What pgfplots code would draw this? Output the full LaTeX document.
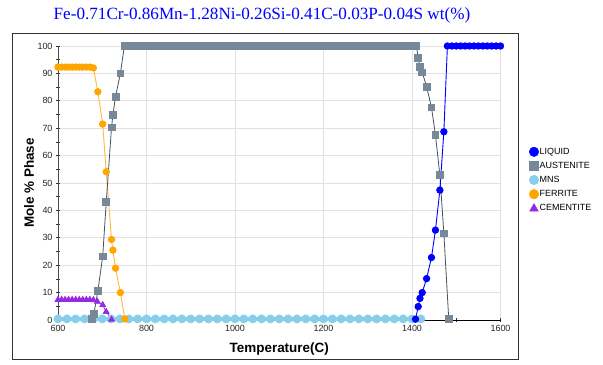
\documentclass[border=0pt]{standalone}
\usepackage{pgfplots}
\pgfplotsset{compat=1.18}
\usepackage{fontspec}
\setmainfont{Liberation Sans}
\newfontfamily\titlefont{Liberation Serif}
\definecolor{cliq}{RGB}{0,0,255}
\definecolor{caus}{RGB}{119,136,153}
\definecolor{causl}{RGB}{70,82,95}
\definecolor{cmns}{RGB}{135,206,235}
\definecolor{cfer}{RGB}{255,165,0}
\definecolor{cferl}{RGB}{255,185,60}
\definecolor{ccem}{RGB}{150,40,230}
\definecolor{cgrid}{RGB}{225,225,225}
\definecolor{cframe}{RGB}{50,50,50}
\begin{document}
\begin{tikzpicture}
\useasboundingbox (-58bp,-45bp) rectangle (545bp,320bp);
\draw[cframe, line width=1bp] (-45bp,-39bp) rectangle (460bp,286bp);
\node[font=\titlefont\fontsize{17.2}{19}\selectfont, text=blue] at (204bp,305bp) {Fe-0.71Cr-0.86Mn-1.28Ni-0.26Si-0.41C-0.03P-0.04S wt(\%)};
\begin{axis}[
  at={(0,0)}, anchor=south west,
  scale only axis, width=442.5bp, height=274bp,
  xmin=600, xmax=1600, ymin=0, ymax=100,
  axis x line*=bottom, axis y line*=left,
  x axis line style={black, line width=0.8bp, -},
  y axis line style={black!70, line width=0.8bp, -},
  xtick={600,800,...,1600}, minor xtick={700,900,...,1500},
  ytick={0,10,...,100}, minor ytick={5,15,...,95},
  tick align=center, major tick length=4bp, minor tick length=4bp,
  tick style={black!80, line width=0.6bp},
  xmajorgrids, ymajorgrids, major grid style={cgrid, line width=0.8bp},
  ticklabel style={font=\fontsize{9}{10}\selectfont, text=black!85},
  /pgf/number format/assume math mode=true, /pgf/number format/1000 sep={},
  xlabel={Temperature(C)}, ylabel={Mole \% Phase},
  label style={font=\bfseries\fontsize{13.5}{15}\selectfont},
  xlabel style={at={(axis description cs:0.5,-0.106)}, anchor=center},
  ylabel style={at={(axis description cs:-0.0655,0.5)}, anchor=center},
  clip=false,
  legend style={draw=none, fill=none, at={(1.0644,0.632)}, anchor=north west,
    font=\fontsize{9}{10}\selectfont, row sep=4.6bp, inner sep=0pt, nodes={inner sep=0.8bp}},
  legend cell align=left,
  legend image code/.code={\draw[#1, only marks] plot coordinates {(0bp,0bp)};},
]
% MNS
\addplot[forget plot, cmns, line width=3.6bp, mark=*, mark size=2.5bp, mark options={fill=cmns, draw=cmns}] coordinates {
(600,0.4) (620,0.4) (640,0.4) (660,0.4) (680,0.4) (700,0.4) (720,0.4) (740,0.4) (760,0.4) (780,0.4)
(800,0.4) (820,0.4) (840,0.4) (860,0.4) (880,0.4) (900,0.4) (920,0.4) (940,0.4) (960,0.4) (980,0.4)
(1000,0.4) (1020,0.4) (1040,0.4) (1060,0.4) (1080,0.4) (1100,0.4) (1120,0.4) (1140,0.4) (1160,0.4) (1180,0.4)
(1200,0.4) (1220,0.4) (1240,0.4) (1260,0.4) (1280,0.4) (1300,0.4) (1320,0.4) (1340,0.4) (1360,0.4) (1380,0.4)
(1400,0.4) (1420,0.4)};
% CEMENTITE
\addplot[forget plot, ccem, line width=0.8bp, mark=triangle*, mark size=3.3bp, mark options={fill=ccem, draw=ccem}] coordinates {
(600,7.4) (608,7.4) (616,7.4) (624,7.4) (632,7.4) (640,7.4) (648,7.4) (656,7.4) (664,7.4) (672,7.4) (680,7.3)
(689,6.7) (701,5.5) (709,3.0) (721,0.2)};
% FERRITE
\addplot[forget plot, cferl, line width=0.9bp, mark=*, mark size=3.2bp, mark options={fill=cfer, draw=cfer}] coordinates {
(600,92.3) (608,92.3) (616,92.3) (624,92.3) (632,92.3) (640,92.3) (648,92.3) (656,92.3) (664,92.3) (672,92.3) (680,92.0)
(690,83.3) (701,71.5) (709,54.1) (721,29.4) (724,25.5) (730,18.9) (741,10.0) (751,0.4)};
% AUSTENITE
\addplot[forget plot, causl, line width=0.8bp, mark=square*, mark size=3.4bp, mark options={fill=caus, draw=caus}] coordinates {
(676,0.3) (681,2.2) (690,10.5) (701,23.2) (709,43.0) (721,70.3) (724,74.8) (730,81.5) (741,90.0)
(750,100) (760,100) (770,100) (780,100) (790,100) (800,100) (810,100) (820,100) (830,100) (840,100)
(850,100) (860,100) (870,100) (880,100) (890,100) (900,100) (910,100) (920,100) (930,100) (940,100)
(950,100) (960,100) (970,100) (980,100) (990,100) (1000,100) (1010,100) (1020,100) (1030,100) (1040,100)
(1050,100) (1060,100) (1070,100) (1080,100) (1090,100) (1100,100) (1110,100) (1120,100) (1130,100) (1140,100)
(1150,100) (1160,100) (1170,100) (1180,100) (1190,100) (1200,100) (1210,100) (1220,100) (1230,100) (1240,100)
(1250,100) (1260,100) (1270,100) (1280,100) (1290,100) (1300,100) (1310,100) (1320,100) (1330,100) (1340,100)
(1350,100) (1360,100) (1370,100) (1380,100) (1390,100) (1400,100) (1410,100)
(1414,95.7) (1418,92.5) (1423,90.4) (1433,85.2) (1444,77.6) (1453,67.5) (1463,52.9) (1472,31.6) (1483,0.4)};
% LIQUID
\addplot[forget plot, cliq, line width=0.9bp, mark=*, mark size=3.2bp, mark options={fill=cliq, draw=cliq}] coordinates {
(1408,0.3) (1414,4.9) (1418,7.9) (1423,10.0) (1433,15.1) (1444,22.8) (1453,32.8) (1463,47.4) (1472,68.7)
(1480,100) (1490,100) (1500,100) (1510,100) (1520,100) (1530,100) (1540,100) (1550,100) (1560,100) (1570,100) (1580,100) (1590,100) (1600,100)};
\addlegendimage{mark=*, mark size=4.8bp, cliq, mark options={fill=cliq}}
\addlegendentry{LIQUID}
\addlegendimage{mark=square*, mark size=4.5bp, caus, mark options={fill=caus}}
\addlegendentry{AUSTENITE}
\addlegendimage{mark=*, mark size=4.8bp, cmns, mark options={fill=cmns}}
\addlegendentry{MNS}
\addlegendimage{mark=*, mark size=4.8bp, cfer, mark options={fill=cfer}}
\addlegendentry{FERRITE}
\addlegendimage{mark=triangle*, mark size=5bp, ccem, mark options={fill=ccem}}
\addlegendentry{CEMENTITE}
\end{axis}
\end{tikzpicture}
\end{document}
